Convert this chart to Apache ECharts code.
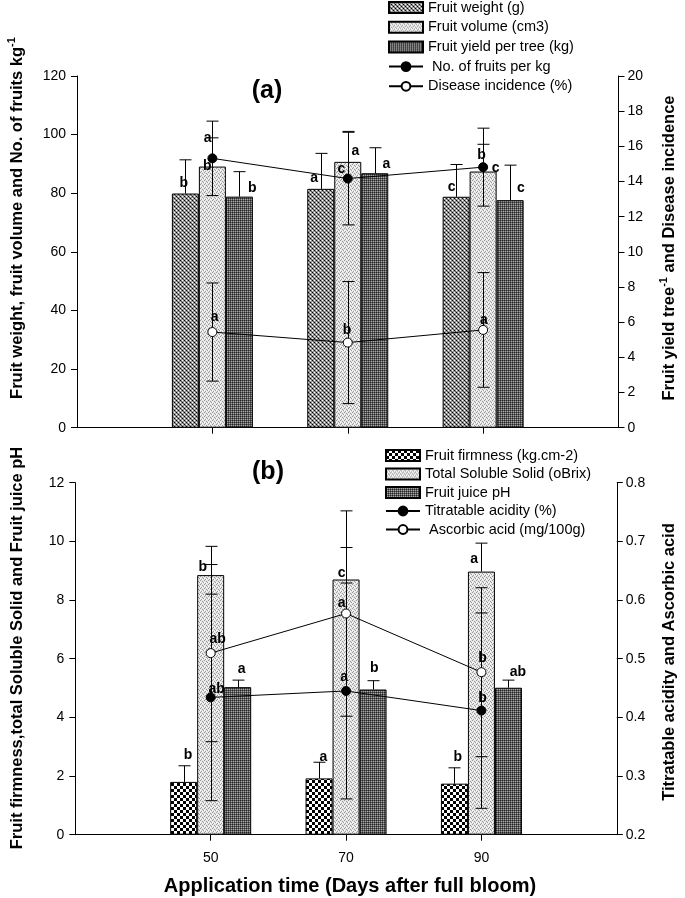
<!DOCTYPE html>
<html><head><meta charset="utf-8">
<script src="https://cdn.jsdelivr.net/npm/echarts@6/dist/echarts.min.js"></script>
<style>html,body{margin:0;padding:0;background:#fff}#c{width:685px;height:898px}</style>
</head><body><div id="c"></div>
<script>
// ---------- data ----------
const categories = ['50', '70', '90'];
// panel (a)
const fruitWeight = [79.9, 81.5, 78.8];
const fruitWeightErr = [11.5, 12.1, 11.0];
const fruitWeightLetters = ['b', 'a', 'c'];
const fruitVolume = [89.1, 90.7, 87.4];
const fruitVolumeErr = [9.8, 10.4, 9.3];
const fruitVolumeLetters = ['b', 'a', 'c'];
const fruitYield = [13.14, 14.47, 12.94];
const fruitYieldErr = [1.42, 1.45, 1.99];
const fruitYieldLetters = ['b', 'a', 'c'];
const fruitsPerKg = [91.9, 85.0, 88.9];
const fruitsPerKgErr = [12.7, 15.8, 13.3];
const fruitsPerKgLetters = ['a', 'c', 'b'];
const diseaseIncidence = [5.44, 4.84, 5.56];
const diseaseIncidenceErr = [2.79, 3.47, 3.26];
const diseaseLetters = ['a', 'b', 'a'];
// panel (b)
const firmness = [1.80, 1.92, 1.74];
const firmnessErr = [0.55, 0.55, 0.54];
const firmnessLetters = ['b', 'a', 'b'];
const tss = [8.85, 8.70, 8.97];
const tssErr = [0.98, 1.09, 0.97];
const tssLetters = ['b', 'c', 'a'];
const juicePH = [5.03, 4.95, 5.01];
const juicePHErr = [0.24, 0.30, 0.26];
const juicePHLetters = ['a', 'b', 'ab'];
const titratable = [0.434, 0.445, 0.4115];
const titratableErr = [0.176, 0.184, 0.1665];
const titratableLetters = ['ab', 'a', 'b'];
const ascorbic = [0.5095, 0.577, 0.477];
const ascorbicErr = [0.151, 0.175, 0.144];
const ascorbicLetters = ['ab', 'a', 'b'];

// ---------- styling ----------
const FONT = 'Liberation Sans';
const BW = 27; // bar width px
// letter offsets (px) relative to mark anchor
const offW = [[-1.7,-10.5],[-6.7,-11],[-4.6,-9.4]];
const offV = [[-5,0],[7.7,-11],[12.4,-3]];
const offY = [[12.8,-8.6],[11.7,-9.3],[10.7,-11.9]];
const offF = [[-4.7,-20],[-6.3,-9.3],[-1.6,-11.8]];
const offD = [[2.3,-15.3],[-0.7,-12.6],[0.7,-10]];
const offFi = [[4.3,-27],[4.3,-21.6],[3.4,-27]];
const offT = [[-8,-8.3],[-4.3,-6.7],[-7.3,-12.1]];
const offP = [[4,-18],[1.3,-21],[9.4,-15.4]];
const offA = [[7,-14.4],[-4.3,-10],[1,-13.8]];
const offTi = [[6,-7.8],[-2,-14.2],[1,-12.3]];

function pattern(size, draw) {
  const cv = document.createElement('canvas');
  cv.width = size; cv.height = size;
  const ctx = cv.getContext('2d');
  draw(ctx);
  return { image: cv, repeat: 'repeat' };
}
function px(ctx, c, pts) { ctx.fillStyle = c; pts.forEach(p => ctx.fillRect(p[0], p[1], 1, 1)); }
const patWeight = pattern(4, ctx => {
  ctx.fillStyle = '#9a9a9a'; ctx.fillRect(0,0,4,4);
  px(ctx, '#000', [[0,0],[2,2]]);
  px(ctx, '#fff', [[2,0],[0,2]]);
  px(ctx, '#555', [[1,1],[3,3]]);
});
const patLight = pattern(4, ctx => {
  ctx.fillStyle = '#e6e6e6'; ctx.fillRect(0,0,4,4);
  px(ctx, '#9a9a9a', [[0,0],[2,1],[1,3],[3,2]]);
  px(ctx, '#ffffff', [[2,3],[0,2]]);
});
const patDark = pattern(2, ctx => {
  ctx.fillStyle = '#2a2a2a'; ctx.fillRect(0,0,2,2);
  px(ctx, '#5a5a5a', [[1,0],[0,1]]);
  px(ctx, '#a8a8a8', [[1,1]]);
});
const patChecker = pattern(6, ctx => {
  ctx.fillStyle = '#fff'; ctx.fillRect(0,0,6,6);
  ctx.fillStyle = '#000'; ctx.fillRect(0,0,3,3); ctx.fillRect(3,3,3,3);
});

const pad = arr => ['-'].concat(arr, ['-']);
const axisCats = [''].concat(categories, ['']);

function barSeries(name, vals, pat, g, yIdx) {
  return { name, type: 'bar', xAxisIndex: g, yAxisIndex: yIdx, data: pad(vals),
    barWidth: BW, barGap: '0%', z: 2, silent: true,
    itemStyle: { color: pat, borderColor: '#000', borderWidth: 1 } };
}
function lineSeries(name, vals, filled, g, yIdx) {
  return { name, type: 'line', xAxisIndex: g, yAxisIndex: yIdx, data: pad(vals), z: 5, silent: true,
    symbol: 'circle', symbolSize: 9,
    lineStyle: { color: '#000', width: 1 },
    itemStyle: { color: filled ? '#000' : '#fff', borderColor: '#000', borderWidth: 1 } };
}
function errSeries(vals, errs, xOff, both, g, yIdx) {
  return { type: 'custom', xAxisIndex: g, yAxisIndex: yIdx, z: 4, silent: true,
    data: vals.map((v, i) => [i + 1, v, errs[i]]),
    renderItem(params, api) {
      const c = api.value(0), v = api.value(1), e = api.value(2);
      const p = api.coord([c, v]), hi = api.coord([c, v + e]), lo = api.coord([c, v - e]);
      const x = Math.round(p[0] + xOff) + 0.5;
      const st = { stroke: '#000', lineWidth: 1 };
      const ch = [
        { type: 'line', shape: { x1: x, y1: both ? lo[1] : p[1], x2: x, y2: hi[1] }, style: st },
        { type: 'line', shape: { x1: x - 6, y1: hi[1], x2: x + 6, y2: hi[1] }, style: st }
      ];
      if (both) ch.push({ type: 'line', shape: { x1: x - 6, y1: lo[1], x2: x + 6, y2: lo[1] }, style: st });
      return { type: 'group', children: ch };
    } };
}
function letterSeries(vals, letters, offs, xOff, g, yIdx) {
  return { type: 'custom', xAxisIndex: g, yAxisIndex: yIdx, z: 10, silent: true,
    data: vals.map((v, i) => [i + 1, v, i]),
    renderItem(params, api) {
      const i = api.value(2);
      const p = api.coord([api.value(0), api.value(1)]);
      return { type: 'text', x: p[0] + xOff + offs[i][0], y: p[1] + offs[i][1],
        style: { text: letters[i], fill: '#000', font: 'bold 14px ' + FONT, align: 'center', verticalAlign: 'middle' } };
    } };
}

const grids = [
  { left: 77, top: 76, width: 541.5, height: 351.7 },
  { left: 75.3, top: 482.7, width: 541.5, height: 352 }
];
const xAxes = [0, 1].map(g => ({
  type: 'category', gridIndex: g, data: axisCats, boundaryGap: false,
  axisLine: { lineStyle: { color: '#000', width: 1 } },
  axisTick: { show: true, length: 6, interval: (i, v) => v !== '', lineStyle: { color: '#000' } },
  axisLabel: { show: g === 1, interval: (i, v) => v !== '', margin: 16, color: '#000', fontSize: 14, fontFamily: FONT },
  splitLine: { show: false }
}));
function yAx(g, pos, min, max, interval, fmt) {
  return { type: 'value', gridIndex: g, position: pos, min, max, interval,
    axisLine: { show: true, lineStyle: { color: '#000', width: 1 } },
    axisTick: { show: true, length: 6, lineStyle: { color: '#000' } },
    axisLabel: { color: '#000', fontSize: 14, fontFamily: FONT, margin: pos === 'left' ? 11 : 9, formatter: fmt },
    splitLine: { show: false } };
}
const yAxes = [
  yAx(0, 'left', 0, 120, 20),
  yAx(0, 'right', 0, 20, 2),
  yAx(1, 'left', 0, 12, 2),
  yAx(1, 'right', 0.2, 0.8, 0.1, v => v.toFixed(1))
];

const series = [
  barSeries('Fruit weight (g)', fruitWeight, patWeight, 0, 0),
  barSeries('Fruit volume (cm3)', fruitVolume, patLight, 0, 0),
  barSeries('Fruit yield per tree (kg)', fruitYield, patDark, 0, 1),
  errSeries(fruitWeight, fruitWeightErr, -BW, false, 0, 0),
  errSeries(fruitVolume, fruitVolumeErr, 0, false, 0, 0),
  errSeries(fruitYield, fruitYieldErr, BW, false, 0, 1),
  errSeries(fruitsPerKg, fruitsPerKgErr, 0, true, 0, 0),
  errSeries(diseaseIncidence, diseaseIncidenceErr, 0, true, 0, 1),
  lineSeries(' No. of fruits per kg', fruitsPerKg, true, 0, 0),
  lineSeries('Disease incidence (%)', diseaseIncidence, false, 0, 1),
  letterSeries(fruitWeight, fruitWeightLetters, offW, -BW, 0, 0),
  letterSeries(fruitVolume, fruitVolumeLetters, offV, 0, 0, 0),
  letterSeries(fruitYield, fruitYieldLetters, offY, BW, 0, 1),
  letterSeries(fruitsPerKg, fruitsPerKgLetters, offF, 0, 0, 0),
  letterSeries(diseaseIncidence, diseaseLetters, offD, 0, 0, 1),

  barSeries('Fruit firmness (kg.cm-2)', firmness, patChecker, 1, 2),
  barSeries('Total Soluble Solid (oBrix)', tss, patLight, 1, 2),
  barSeries('Fruit juice pH', juicePH, patDark, 1, 2),
  errSeries(firmness, firmnessErr, -BW, false, 1, 2),
  errSeries(tss, tssErr, 0, false, 1, 2),
  errSeries(juicePH, juicePHErr, BW, false, 1, 2),
  errSeries(titratable, titratableErr, 0, true, 1, 3),
  errSeries(ascorbic, ascorbicErr, 0, true, 1, 3),
  lineSeries('Titratable acidity (%)', titratable, true, 1, 3),
  lineSeries(' Ascorbic acid (mg/100g)', ascorbic, false, 1, 3),
  letterSeries(firmness, firmnessLetters, offFi, -BW, 1, 2),
  letterSeries(tss, tssLetters, offT, 0, 1, 2),
  letterSeries(juicePH, juicePHLetters, offP, BW, 1, 2),
  letterSeries(ascorbic, ascorbicLetters, offA, 0, 1, 3),
  letterSeries(titratable, titratableLetters, offTi, 0, 1, 3)
];

const legendBase = { orient: 'vertical', itemWidth: 34, itemHeight: 11, selectedMode: false, padding: 0,
  textStyle: { fontSize: 14.5, fontFamily: FONT, color: '#000', lineHeight: 14 } };
const rectItem = name => ({ name, icon: 'rect' });

const titleRich = (size) => ({
  t: { font: 'bold ' + size + 'px ' + FONT, lineHeight: 22 },
  s: { font: 'bold 11px ' + FONT, lineHeight: 22, verticalAlign: 'top' }
});

const option = {
  animation: false,
  backgroundColor: '#fff',
  grid: grids,
  xAxis: xAxes,
  yAxis: yAxes,
  legend: [
    Object.assign({}, legendBase, { left: 388, top: 0, itemGap: 4.7,
      data: [rectItem('Fruit weight (g)'), rectItem('Fruit volume (cm3)'), rectItem('Fruit yield per tree (kg)'), ' No. of fruits per kg', 'Disease incidence (%)'] }),
    Object.assign({}, legendBase, { left: 385, top: 448, itemGap: 3.5,
      data: [rectItem('Fruit firmness (kg.cm-2)'), rectItem('Total Soluble Solid (oBrix)'), rectItem('Fruit juice pH'), 'Titratable acidity (%)', ' Ascorbic acid (mg/100g)'] })
  ],
  graphic: [
    { type: 'text', x: 267, y: 91, style: { text: '(a)', font: 'bold 25px ' + FONT, fill: '#000', align: 'center', verticalAlign: 'middle' } },
    { type: 'text', x: 268, y: 472, style: { text: '(b)', font: 'bold 25px ' + FONT, fill: '#000', align: 'center', verticalAlign: 'middle' } },
    { type: 'text', x: 17, y: 218, rotation: Math.PI / 2,
      style: { text: '{t|Fruit weight, fruit volume and No. of fruits kg}{s|-1}', rich: titleRich(16.5), fill: '#000', align: 'center', verticalAlign: 'middle' } },
    { type: 'text', x: 669, y: 248, rotation: Math.PI / 2,
      style: { text: '{t|Fruit yield tree}{s|-1}{t| and Disease incidence}', rich: titleRich(16.5), fill: '#000', align: 'center', verticalAlign: 'middle' } },
    { type: 'text', x: 17, y: 648, rotation: Math.PI / 2,
      style: { text: 'Fruit firmness,total Soluble Solid and Fruit juice pH', font: 'bold 16.5px ' + FONT, fill: '#000', align: 'center', verticalAlign: 'middle' } },
    { type: 'text', x: 669, y: 662, rotation: Math.PI / 2,
      style: { text: 'Titratable acidity and Ascorbic acid', font: 'bold 16.5px ' + FONT, fill: '#000', align: 'center', verticalAlign: 'middle' } },
    { type: 'text', x: 350, y: 886, style: { text: 'Application time (Days after full bloom)', font: 'bold 20px ' + FONT, fill: '#000', align: 'center', verticalAlign: 'middle' } }
  ],
  series
};
const chart = echarts.init(document.getElementById('c'), null, { renderer: 'canvas' });
chart.setOption(option);
</script>
</body></html>
